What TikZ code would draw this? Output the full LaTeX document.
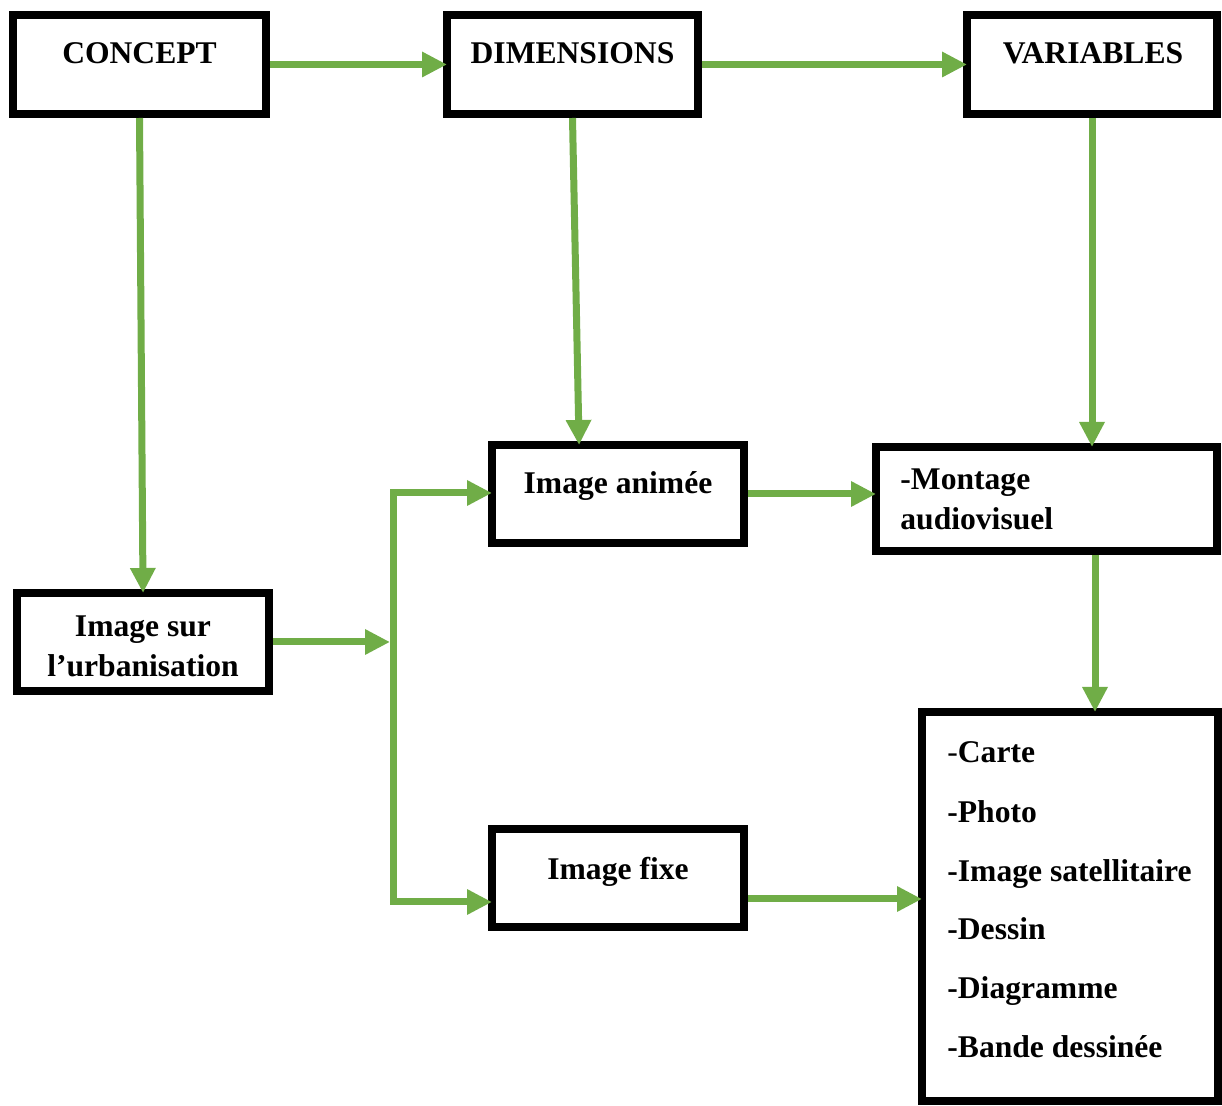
\documentclass[tikz,border=0pt]{standalone}
\usepackage{fontspec}
\setmainfont{Liberation Serif}
\usetikzlibrary{arrows.meta}
\definecolor{arrowgreen}{HTML}{70AD47}
\tikzset{
  box/.style={draw=black, line width=4pt, inner sep=0pt, fill=white},
  lbl/.style={font=\fontsize{15.8}{19}\selectfont\bfseries, inner sep=0pt, anchor=base},
  lbll/.style={lbl, anchor=base west},
  link/.style={draw=arrowgreen, line width=3.5pt},
  arr/.style={link, -{Triangle[length=12.5pt,width=12pt]}, shorten >=-2pt},
}
\begin{document}
\begin{tikzpicture}[x=0.5pt,y=-0.5pt]
\useasboundingbox (0,0) rectangle (1222,1106);
% boxes
\node[box, minimum width=126.5pt, minimum height=49.5pt] (concept) at (139.5,64.5) {};
\node[box, minimum width=125.5pt, minimum height=49.5pt] (dims) at (572.5,64.5) {};
\node[box, minimum width=125pt, minimum height=49.5pt] (vars) at (1092,64.5) {};
\node[box, minimum width=126pt, minimum height=49pt] (anim) at (618,494) {};
\node[box, minimum width=170.5pt, minimum height=52pt] (mont) at (1046.5,499) {};
\node[box, minimum width=126pt, minimum height=49pt] (imgsur) at (143,642) {};
\node[box, minimum width=126pt, minimum height=49pt] (fixe) at (618,878) {};
\node[box, minimum width=148pt, minimum height=194.5pt] (list) at (1070,906.5) {};
% texts
\node[lbl] (tconcept) at (139.5,64) {CONCEPT};
\node[lbl] (tdims) at (572.5,64) {DIMENSIONS};
\node[lbl] (tvars) at (1093,64) {VARIABLES};
\node[lbl] (tanim) at (618,494) {Image animée};
\node[lbll] (tmont1) at (900,490) {-Montage};
\node[lbll] (tmont2) at (900,530) {audiovisuel};
\node[lbl] (tsur1) at (143,637) {Image sur};
\node[lbl] (tsur2) at (143,677) {l’urbanisation};
\node[lbl] (tfixe) at (618,879) {Image fixe};
\node[lbll] (l1) at (947,763) {{\mdseries -}Carte};
\node[lbll] (l2) at (947,823) {-Photo};
\node[lbll] (l3) at (947,882) {-Image satellitaire};
\node[lbll] (l4) at (947,940) {-Dessin};
\node[lbll] (l5) at (947,998) {-Diagramme};
\node[lbll] (l6) at (947,1057) {-Bande dessinée};
% connectors
\coordinate (ja) at (393,493);
\coordinate (jb) at (393,902);
\coordinate (jm) at (390,642);
\coordinate (dtip) at (579,445);
\coordinate (ms) at (1095,551);
\coordinate (f1) at (744,899);
\draw[arr] (concept.east) -- (dims.west);
\draw[arr] (dims.east) -- (vars.west);
\draw[arr] (concept.south) -- (imgsur.north);
\draw[arr] (dims.south) -- (dtip |- anim.north);
\draw[arr] (vars.south) -- (vars.south |- mont.north);
\draw[arr, shorten >=0pt] (imgsur.east) -- (jm);
\draw[arr] (ja) -- (jb) -- (jb -| fixe.west);
\draw[arr] (jb) -- (ja) -- (ja -| anim.west);
\draw[arr] (anim.east) -- (anim.east -| mont.west);
\draw[arr] (ms |- mont.south) -- (ms |- list.north);
\draw[arr] (f1 -| fixe.east) -- (f1 -| list.west);
\end{tikzpicture}
\end{document}
